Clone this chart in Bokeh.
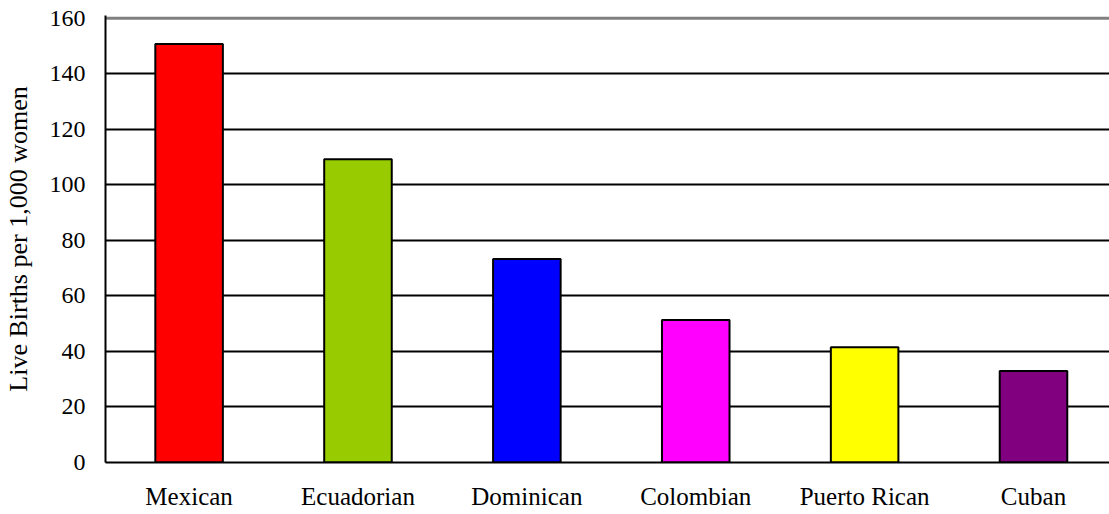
import numpy as np
from bokeh.plotting import figure
from bokeh.models import Range1d, FixedTicker, Span, ColumnDataSource
from bokeh.embed import file_html
from bokeh.resources import INLINE

categories = ["Mexican", "Ecuadorian", "Dominican", "Colombian", "Puerto Rican", "Cuban"]
values = [150.7, 109.2, 73.3, 51.3, 41.5, 33.0]
colors = ["#FF0000", "#99CC00", "#0000FF", "#FF00FF", "#FFFF00", "#800080"]
y_ticks = [0, 20, 40, 60, 80, 100, 120, 140, 160]

FONT = "Liberation Serif"

xpos = [i + 0.5 for i in range(len(categories))]
src = ColumnDataSource(dict(x=xpos, top=values, color=colors, cat=categories))

p = figure(width=1109, height=514, output_backend="svg", toolbar_location=None,
           x_range=Range1d(0.005, 5.95), y_range=Range1d(0, 161),
           min_border_left=104, min_border_right=0, min_border_top=15, min_border_bottom=52)
p.outline_line_color = None
p.background_fill_color = "white"

p.vbar(x="x", top="top", bottom=0, width=0.4, fill_color="color",
       line_color="black", line_width=2, source=src)

p.xgrid.visible = False
p.ygrid.ticker = FixedTicker(ticks=y_ticks[1:-1])
p.ygrid.grid_line_color = "black"
p.ygrid.grid_line_width = 2
p.ygrid.level = "underlay"

p.add_layout(Span(location=y_ticks[-1], dimension="width", line_color="#808080", line_width=3, level="underlay"))

p.yaxis.ticker = FixedTicker(ticks=y_ticks)
p.yaxis.major_tick_out = 0
p.yaxis.major_tick_in = 0
p.yaxis.minor_tick_out = 0
p.yaxis.minor_tick_in = 0
p.yaxis.axis_line_color = "black"
p.yaxis.axis_line_width = 2
p.yaxis.major_label_standoff = 20
p.yaxis.major_label_text_font = FONT
p.yaxis.major_label_text_font_size = "24px"
p.yaxis.major_label_text_color = "black"
p.yaxis.axis_label = "Live Births per 1,000 women"
p.yaxis.axis_label_text_font = FONT
p.yaxis.axis_label_text_font_size = "26px"
p.yaxis.axis_label_text_font_style = "normal"
p.yaxis.axis_label_text_color = "black"
p.yaxis.axis_label_standoff = 14

p.xaxis.ticker = FixedTicker(ticks=xpos)
p.xaxis.major_label_overrides = {x: c for x, c in zip(xpos, categories)}
p.xaxis.major_tick_out = 0
p.xaxis.major_tick_in = 0
p.xaxis.minor_tick_out = 0
p.xaxis.minor_tick_in = 0
p.xaxis.axis_line_color = "black"
p.xaxis.axis_line_width = 2
p.xaxis.major_label_standoff = 20
p.xaxis.major_label_text_font = FONT
p.xaxis.major_label_text_font_size = "25px"
p.xaxis.major_label_text_color = "black"

open("out.html", "w").write(file_html(p, INLINE))
